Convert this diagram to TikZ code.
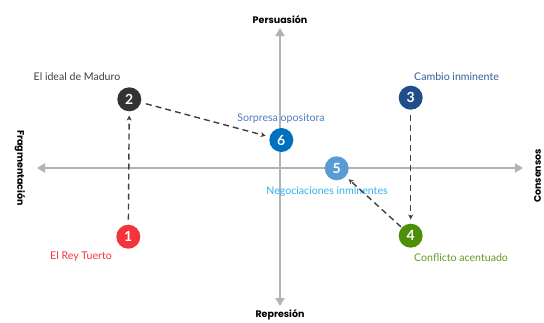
\documentclass[tikz,border=0pt]{standalone}
\usepackage{fontspec}
\setmainfont{Lato}
\newfontfamily\axisfont{Poppins}
\usetikzlibrary{arrows.meta}
\definecolor{axisgray}{HTML}{B3B3B3}
\definecolor{cred}{HTML}{F4333C}
\definecolor{cdark}{HTML}{333333}
\definecolor{cnavy}{HTML}{1F4E89}
\definecolor{cgreen}{HTML}{4E8F0A}
\definecolor{clight}{HTML}{5B9BD5}
\definecolor{cblue}{HTML}{0070C0}
\definecolor{lnavy}{HTML}{2E5F99}
\definecolor{lsorp}{HTML}{4A7EBB}
\definecolor{lnego}{HTML}{33B0F0}
\definecolor{lgreen}{HTML}{5E9E1E}
\definecolor{lgray}{HTML}{404040}
\definecolor{dashgray}{HTML}{404040}
\tikzset{
  axis/.style={draw=axisgray, line width=2.4pt, -{Triangle[length=8pt,width=9pt]}},
  axislabel/.style={font=\axisfont\bfseries\fontsize{9.5}{11}\selectfont, text=black, inner sep=0pt},
  num/.style={circle, minimum size=24pt, inner sep=0pt, text=white, font=\bfseries\fontsize{14}{15}\selectfont},
  lab/.style={font=\fontsize{10.6}{12}\selectfont, inner sep=0pt},
  conn/.style={draw=dashgray, line width=1.4pt, dash pattern=on 6pt off 4pt, -{Stealth[length=5pt,width=5pt]}, shorten >=4pt, shorten <=5pt},
}
\begin{document}
\begin{tikzpicture}[x=1pt,y=-1pt]
\useasboundingbox (0,0) rectangle (544,322);
% axes
\coordinate (cL) at (37,168);
\coordinate (cR) at (523,168);
\coordinate (cT) at (280,28);
\coordinate (cB) at (280,306);
\coordinate (cO) at (280,168);
\draw[axis] (cO) -- (cL);
\draw[axis] (cO) -- (cR);
\draw[axis] (cO) -- (cT);
\draw[axis] (cO) -- (cB);
\node[axislabel] (tp) at (280,20) {Persuasión};
\node[axislabel] (bt) at (280,315) {Represión};
\node[axislabel, rotate=-90] (lf) at (20,168) {Fragmentación};
\node[axislabel, rotate=90] (rc) at (537.5,176) {Consensos};
% circles
\node[num, fill=cred] (n1) at (128.3,236.7) {1};
\node[num, fill=cdark] (n2) at (129.3,99.3) {2};
\node[num, fill=cnavy] (n3) at (410.7,97.7) {3};
\node[num, fill=cgreen] (n4) at (410.7,235.7) {4};
\node[num, fill=clight] (n5) at (336.7,168.3) {5};
\node[num, fill=cblue] (n6) at (281.3,140) {6};
% labels
\node[lab, text=lgray] (l2) at (77,76.7) {El ideal de Maduro};
\node[lab, text=cred] (l1) at (81,256.7) {El Rey Tuerto};
\node[lab, text=lsorp] (l6) at (281,118.3) {Sorpresa opositora};
\node[lab, text=lnego] (l5) at (327,191.7) {Negociaciones inminentes};
\node[lab, text=lnavy, anchor=west] (l3) at (414,76.7) {Cambio inminente};
\node[lab, text=lgreen, anchor=west] (l4) at (414,257.3) {Conflicto acentuado};
% connectors
\draw[conn] (n1) -- (n2);
\draw[conn] (n2) -- (n6);
\draw[conn] (n3) -- (n4);
\draw[conn, shorten <=1pt] (n4) -- (n5);
\end{tikzpicture}
\end{document}
